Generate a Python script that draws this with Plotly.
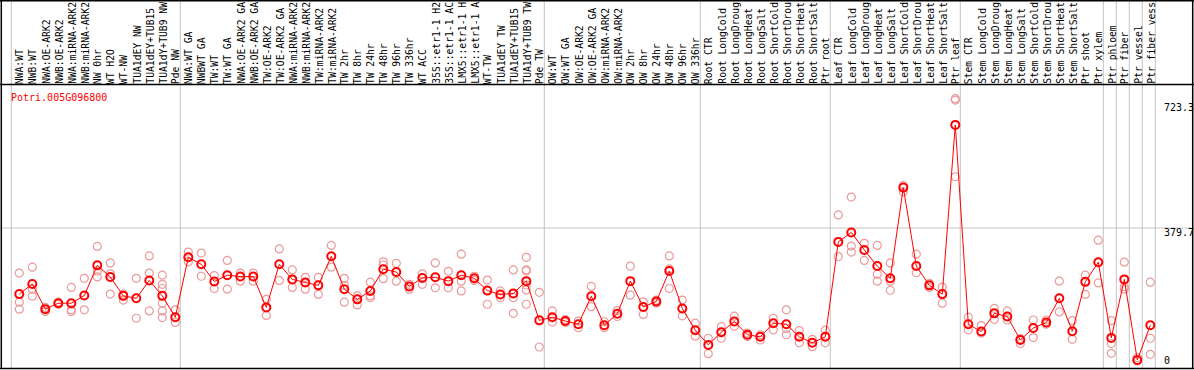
import plotly.graph_objects as go

labels = [
    "NWA:WT", "NWB:WT", "NWA:OE-ARK2", "NWB:OE-ARK2", "NWA:miRNA-ARK2", "NWB:miRNA-ARK2",
    "NW 0hr", "WT H2O", "WT-NW", "TUA1dEY NW", "TUA1dEY+TUB15", "TUA1dY+TUB9 NW", "Pde NW",
    "NWA:WT GA", "NWBWT GA", "TW:WT", "TW:WT GA", "NWA:OE-ARK2 GA", "NWB:OE-ARK2 GA",
    "TW:OE-ARK2", "TW:OE-ARK2 GA", "NWA:miRNA-ARK2", "NWB:miRNA-ARK2", "TW:miRNA-ARK2",
    "TW:miRNA-ARK2", "TW 2hr", "TW 8hr", "TW 24hr", "TW 48hr", "TW 96hr", "TW 336hr",
    "WT ACC", "35S::etr1-1 H2", "35S::etr1-1 AC", "LMX5::etr1-1 H", "LMX5::etr1-1 A",
    "WT-TW", "TUA1dEY TW", "TUA1dEY+TUB15", "TUA1dY+TUB9 TW", "Pde TW",
    "OW:WT", "OW:WT GA", "OW:OE-ARK2", "OW:OE-ARK2 GA", "OW:miRNA-ARK2", "OW:miRNA-ARK2",
    "OW 2hr", "OW 8hr", "OW 24hr", "OW 48hr", "OW 96hr", "OW 336hr",
    "Root CTR", "Root LongCold", "Root LongDroug", "Root LongHeat", "Root LongSalt",
    "Root ShortCold", "Root ShortDrou", "Root ShortHeat", "Root ShortSalt", "Ptr root",
    "Leaf CTR", "Leaf LongCold", "Leaf LongDroug", "Leaf LongHeat", "Leaf LongSalt",
    "Leaf ShortCold", "Leaf ShortDrou", "Leaf ShortHeat", "Leaf ShortSalt", "Ptr leaf",
    "Stem CTR", "Stem LongCold", "Stem LongDroug", "Stem LongHeat", "Stem LongSalt",
    "Stem ShortCold", "Stem ShortDrou", "Stem ShortHeat", "Stem ShortSalt", "Ptr shoot",
    "Ptr xylem", "Ptr phloem", "Ptr fiber", "Ptr vessel", "Ptr fiber vess",
]

means = [
    191, 220, 148, 165, 165, 187, 273, 240, 186, 179, 230, 186, 125,
    296, 276, 227, 245, 241, 241, 153, 276, 233, 224, 216, 299, 205, 176, 200,
    262, 254, 213, 237, 239, 228, 245, 236, 201, 190, 193, 228, 116,
    125, 114, 105, 185, 102, 135, 228, 154, 170, 257, 150, 88,
    46, 82, 113, 75, 69, 108, 105, 69, 52, 69,
    340, 367, 317, 271, 236, 495, 271, 216, 191, 674,
    105, 84, 136, 127, 60, 94, 110, 179, 85, 226, 282,
    66, 233, 3, 102,
]

replicates = [
    [251, 168, 148], [268, 205, 185], [153, 141], [168, 162], [210, 146, 141],
    [236, 146], [327, 257, 240], [280, 249, 191], [191, 174], [236, 122],
    [300, 251, 143], [245, 219, 207, 165, 143, 124], [146, 110],
    [311, 283], [308, 242], [244, 207], [287, 205], [251, 228], [251, 228],
    [176, 130], [320, 230], [260, 210], [239, 205], [239, 190], [330, 268],
    [236, 216, 168], [186, 160], [225, 186, 181], [283, 274, 235], [279, 228],
    [219, 205], [249, 219], [280, 209], [256, 209], [305, 228, 200], [242, 230],
    [231, 162], [200, 181], [260, 181, 136], [296, 260, 257, 217, 203, 162], [196, 40],
    [143, 111], [118, 110], [114, 95], [213, 155], [112, 95], [144, 127],
    [271, 188], [169, 133], [174, 165], [300, 263, 207], [174, 129], [108, 71],
    [65, 21], [98, 65], [128, 99], [80, 70], [75, 60], [122, 89], [146, 93, 75],
    [87, 52], [62, 41], [88, 52],
    [417, 298], [468, 328, 311], [336, 287], [330, 248, 228], [280, 228, 202],
    [501, 483], [305, 252], [222, 210], [211, 165], [749, 745, 526],
    [125, 89], [101, 80], [150, 119], [143, 117], [64, 50], [117, 67], [117, 105],
    [228, 140], [115, 62], [245, 190], [345, 223],
    [115, 50, 22], [282, 212, 205], [10, 0], [225, 65, 19],
]

gene_name = "Potri.005G096800"
ytick_values = [723.3, 379.7, 0]
group_breaks = [0, 13, 41, 53, 63, 73, 84, 85, 86, 87, 88]

W, H = 1194, 370
x_cols = list(range(1, len(means) + 1))

# pixel mapping helpers (layout only)
px_per_col = 13.0
x0_px = 19.3
xr = [1 - x0_px / px_per_col, 1 + (W - x0_px) / px_per_col]
zero_px = 361.0
px_per_unit = 133.0 / 379.7
yr = [(zero_px - H) / px_per_unit, zero_px / px_per_unit]

def ydata(py):
    return (zero_px - py) / px_per_unit

fig = go.Figure()

rx, ry = [], []
for i, reps in zip(x_cols, replicates):
    for v in reps:
        rx.append(i)
        ry.append(v)

fig.add_trace(go.Scatter(
    x=rx, y=ry, mode="markers",
    marker=dict(symbol="circle-open", size=8, color="#eb9a9a", line=dict(width=1.2)),
    hoverinfo="skip", showlegend=False,
))
fig.add_trace(go.Scatter(
    x=x_cols, y=means, mode="lines+markers",
    line=dict(color="#ff0000", width=1),
    marker=dict(symbol="circle-open", size=8, color="#ff0000", line=dict(width=2)),
    showlegend=False,
))

shapes = []
gray = "#c4c4c4"
for k in group_breaks:
    shapes.append(dict(type="line", xref="x", yref="paper", x0=k + 0.385, x1=k + 0.385,
                       y0=1 - 368 / H, y1=1, line=dict(color=gray, width=1), layer="below"))
shapes.append(dict(type="line", xref="paper", yref="y", x0=0, x1=1, y0=379.7, y1=379.7,
                   line=dict(color=gray, width=1), layer="below"))
# frame
blk = "#000000"
for py in (84.5, 368.5, 0.75):
    shapes.append(dict(type="line", xref="paper", yref="paper", x0=0, x1=1, y0=1 - py / H, y1=1 - py / H,
                       line=dict(color=blk, width=1.5)))
for px in (1.3, W - 1.3):
    shapes.append(dict(type="line", xref="paper", yref="paper", x0=px / W, x1=px / W, y0=1 - 368.5 / H, y1=1,
                       line=dict(color=blk, width=1.5)))

mono = "DejaVu Sans Mono"
annotations = []
label_y = ydata(85)
for i, lab in zip(x_cols, labels):
    annotations.append(dict(x=i + 0.03, y=label_y, xref="x", yref="y", text=lab, showarrow=False,
                            textangle=-90, xanchor="center", yanchor="bottom", borderpad=0,
                            font=dict(family=mono, size=9.7, color="#000000")))
annotations.append(dict(x=9 / W, y=1 - 97 / H, xref="paper", yref="paper", text=gene_name,
                        showarrow=False, xanchor="left", yanchor="middle",
                        font=dict(family=mono, size=10, color="#ff0000")))
for v, shift in zip(ytick_values, [0, -4, 1]):
    annotations.append(dict(x=1162 / W, y=v, xref="paper", yref="y", text=f"{v:g}",
                            showarrow=False, xanchor="left", yanchor="middle", yshift=shift,
                            font=dict(family=mono, size=10, color="#000000")))

fig.update_layout(
    width=W, height=H, margin=dict(l=0, r=0, t=0, b=0),
    paper_bgcolor="white", plot_bgcolor="white",
    xaxis=dict(range=xr, visible=False, fixedrange=True),
    yaxis=dict(range=yr, visible=False, fixedrange=True),
    shapes=shapes, annotations=annotations,
)

fig.write_html("out.html", config={"displayModeBar": False},
               post_script="document.body.style.margin='0';document.body.style.padding='0';")
